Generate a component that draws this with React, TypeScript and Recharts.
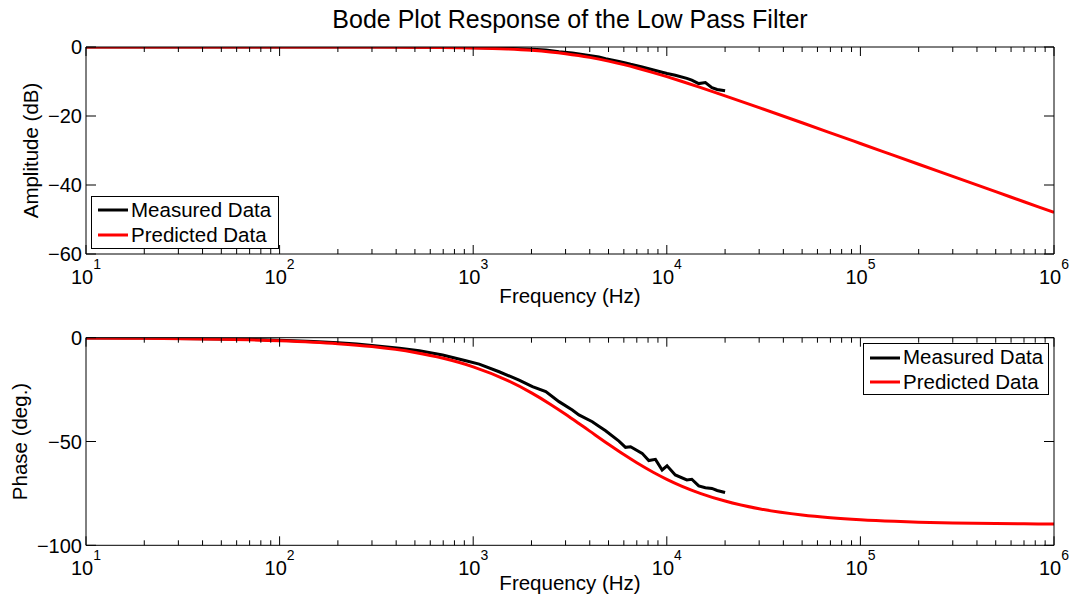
import React from 'react';
import { LineChart, Line, XAxis, YAxis, Legend } from 'recharts';

const FONT = '"Liberation Sans", Arial, Helvetica, sans-serif';

const chartTitle = 'Bode Plot Response of the Low Pass Filter';
const xLabel = 'Frequency (Hz)';
const ampLabel = 'Amplitude (dB)';
const phaseLabel = 'Phase (deg.)';
const seriesNames = ['Measured Data', 'Predicted Data'];
const seriesColors = ['#000000', '#ff0000'];

const xMajorTicks = [10, 100, 1000, 10000, 100000, 1000000];
const xMinorMultipliers = [2, 3, 4, 5, 6, 7, 8, 9];
const ampTicks = [-60, -40, -20, 0];
const phaseTicks = [-100, -50, 0];

const measuredFreq = [10, 15, 20, 30, 40, 50, 70, 100, 150, 200, 250, 300, 416, 527, 695, 916, 1074, 1361, 1726, 2023, 2371, 2775, 3250, 3516, 4123, 4457, 4830, 5660, 6120, 6500, 7460, 8070, 8740, 9460, 10030, 11060, 12690, 13460, 14620, 15820, 17100, 18200, 20000];
const measuredAmp = [0, 0, 0, 0, 0, 0, 0, 0, -0.01, -0.01, -0.01, -0.02, -0.03, -0.05, -0.08, -0.14, -0.19, -0.31, -0.49, -0.65, -0.87, -1.35, -1.7, -2.0, -2.6, -2.9, -3.4, -4.2, -4.6, -5.0, -5.8, -6.3, -6.8, -7.3, -7.7, -8.2, -9.1, -9.6, -10.6, -10.3, -11.8, -12.3, -12.7];
const measuredPhase = [-0.1, -0.2, -0.2, -0.4, -0.5, -0.6, -0.8, -1.2, -1.8, -2.4, -3.0, -3.7, -5.1, -6.3, -8.3, -11.1, -12.7, -16.4, -20.4, -23.6, -26.0, -30.8, -34.8, -37.2, -40.5, -42.6, -44.8, -49.8, -52.8, -52.5, -55.7, -59.2, -58.6, -63.7, -61.7, -66.1, -68.5, -68.2, -71.4, -72.3, -72.6, -73.6, -74.6];

const predictedFreq = [10, 20, 50, 100, 200, 300, 500, 700, 1000, 1500, 2000, 2500, 3000, 3500, 4000, 5000, 6000, 7000, 8500, 10000, 12000, 15000, 20000, 30000, 50000, 70000, 100000, 150000, 200000, 300000, 500000, 700000, 1000000];
const predictedAmp = [0, 0, 0, -0.003, -0.011, -0.024, -0.067, -0.131, -0.263, -0.571, -0.969, -1.432, -1.938, -2.469, -3.01, -4.087, -5.119, -6.088, -7.415, -8.603, -10.0, -11.779, -14.15, -17.578, -21.966, -24.875, -27.966, -31.484, -33.981, -37.502, -41.938, -44.861, -47.959];
const predictedPhase = [-0.14, -0.29, -0.72, -1.43, -2.86, -4.29, -7.13, -9.93, -14.04, -20.56, -26.57, -32.01, -36.87, -41.19, -45.0, -51.34, -56.31, -60.26, -64.8, -68.2, -71.57, -75.07, -78.69, -82.41, -85.43, -86.73, -87.71, -88.47, -88.85, -89.24, -89.54, -89.67, -89.77];

const xTicks: number[] = [];
xMajorTicks.forEach((m, i) => {
  xTicks.push(m);
  if (i < xMajorTicks.length - 1) xMinorMultipliers.forEach((k) => xTicks.push(m * k));
});

const toSeries = (fs: number[], vs: number[]) => fs.map((f, i) => ({ f, v: vs[i] }));
const measuredAmpData = toSeries(measuredFreq, measuredAmp);
const measuredPhaseData = toSeries(measuredFreq, measuredPhase);
const predictedAmpData = toSeries(predictedFreq, predictedAmp);
const predictedPhaseData = toSeries(predictedFreq, predictedPhase);

const isMajor = (v: number) => Math.abs(Math.log10(v) - Math.round(Math.log10(v))) < 1e-9;
const fmtNum = (v: number) => (v < 0 ? '\u2212' + Math.abs(v) : String(v));

const XTickBottom = (props: any) => {
  const { x, y, payload } = props;
  const v = payload.value;
  const major = isMajor(v);
  return (
    <g>
      <line x1={x} x2={x} y1={y} y2={y - (major ? 9 : 5)} stroke="#000" strokeWidth={1} />
      {major && (
        <text x={x} y={y + 29.5} textAnchor="middle" fontFamily={FONT} fontSize={20} fill="#000">
          10
          <tspan dy={-15} fontSize={14}>{Math.round(Math.log10(v))}</tspan>
        </text>
      )}
    </g>
  );
};

const XTickTop = (props: any) => {
  const { x, y, payload } = props;
  const major = isMajor(payload.value);
  return <line x1={x} x2={x} y1={y} y2={y + (major ? 9 : 5)} stroke="#000" strokeWidth={1} />;
};

const YTickLeft = (props: any) => {
  const { x, y, payload } = props;
  return (
    <g>
      <line x1={x} x2={x + 10} y1={y} y2={y} stroke="#000" strokeWidth={1} />
      <text x={x - 4} y={y} dy="0.36em" textAnchor="end" fontFamily={FONT} fontSize={20} fill="#000">
        {fmtNum(payload.value)}
      </text>
    </g>
  );
};

const YTickRight = (props: any) => {
  const { x, y } = props;
  return <line x1={x} x2={x - 10} y1={y} y2={y} stroke="#000" strokeWidth={1} />;
};

const LegendBox = () => (
  <div
    style={{
      border: '1.3px solid #000',
      background: '#fff',
      boxSizing: 'border-box',
      width: '100%',
      height: '100%',
      fontFamily: FONT,
      fontSize: 20.5,
      color: '#000',
      paddingTop: 1,
    }}
  >
    {seriesNames.map((n, i) => (
      <div key={n} style={{ display: 'flex', alignItems: 'center', height: 24.5, lineHeight: '24.5px', whiteSpace: 'nowrap' }}>
        <svg width={30} height={6} style={{ marginLeft: 5.5, marginRight: 3.5, display: 'block' }}>
          <line x1={0} x2={30} y1={3} y2={3} stroke={seriesColors[i]} strokeWidth={3} />
        </svg>
        <span>{n}</span>
      </div>
    ))}
  </div>
);

type PanelProps = {
  height: number;
  top: number;
  marginTop: number;
  xAxisHeight: number;
  xLabelOffset: number;
  domain: [number, number];
  yTicks: number[];
  measured: { f: number; v: number }[];
  predicted: { f: number; v: number }[];
  yLabel: string;
  yLabelX: number;
  title?: string;
  legendPos: { left: number; top: number; width: number; height: number };
};

const Panel = (p: PanelProps) => {
  const plotBottom = p.height - p.xAxisHeight;
  const plotCenterY = (p.marginTop + plotBottom) / 2;
  return (
    <div style={{ position: 'absolute', left: 0, top: p.top }}>
      <LineChart width={1070} height={p.height} margin={{ top: p.marginTop - 1, right: 15, bottom: 0, left: 0 }}>
        <XAxis
          dataKey="f"
          type="number"
          scale="log"
          domain={[10, 1000000]}
          ticks={xTicks}
          interval={0}
          allowDataOverflow
          height={p.xAxisHeight}
          tickSize={0}
          tickMargin={0}
          tickLine={false}
          axisLine={{ stroke: '#000', strokeWidth: 1 }}
          tick={<XTickBottom />}
          label={{
            content: () => (
              <text x={570} y={plotBottom + p.xLabelOffset} textAnchor="middle" fontFamily={FONT} fontSize={20.5} fill="#000">
                {xLabel}
              </text>
            ),
          }}
        />
        <XAxis
          xAxisId="top"
          orientation="top"
          dataKey="f"
          type="number"
          scale="log"
          domain={[10, 1000000]}
          ticks={xTicks}
          interval={0}
          allowDataOverflow
          height={1}
          tickSize={0}
          tickMargin={0}
          tickLine={false}
          axisLine={{ stroke: '#000', strokeWidth: 1 }}
          tick={<XTickTop />}
        />
        <YAxis
          type="number"
          domain={p.domain}
          ticks={p.yTicks}
          interval={0}
          allowDataOverflow
          width={86}
          tickSize={0}
          tickMargin={0}
          tickLine={false}
          axisLine={{ stroke: '#000', strokeWidth: 1 }}
          tick={<YTickLeft />}
          label={{
            content: () => (
              <g>
                <text
                  x={p.yLabelX}
                  y={plotCenterY}
                  transform={`rotate(-90, ${p.yLabelX}, ${plotCenterY})`}
                  textAnchor="middle"
                  fontFamily={FONT}
                  fontSize={20.5}
                  fill="#000"
                >
                  {p.yLabel}
                </text>
                {p.title && (
                  <text x={570} y={28} textAnchor="middle" fontFamily={FONT} fontSize={25} fill="#000">
                    {p.title}
                  </text>
                )}
              </g>
            ),
          }}
        />
        <YAxis
          yAxisId="right"
          orientation="right"
          type="number"
          domain={p.domain}
          ticks={p.yTicks}
          interval={0}
          allowDataOverflow
          width={1}
          tickSize={0}
          tickMargin={0}
          tickLine={false}
          axisLine={{ stroke: '#000', strokeWidth: 1 }}
          tick={<YTickRight />}
        />
        <Line
          data={p.predicted}
          dataKey="v"
          xAxisId="top"
          yAxisId="right"
          stroke="none"
          strokeWidth={0}
          legendType="none"
          dot={false}
          activeDot={false}
          isAnimationActive={false}
        />
        <Line
          data={p.measured}
          dataKey="v"
          name={seriesNames[0]}
          type="linear"
          stroke={seriesColors[0]}
          strokeWidth={3}
          dot={false}
          isAnimationActive={false}
        />
        <Line
          data={p.predicted}
          dataKey="v"
          name={seriesNames[1]}
          type="monotone"
          stroke={seriesColors[1]}
          strokeWidth={3}
          dot={false}
          isAnimationActive={false}
        />
        <Legend
          layout="horizontal"
          verticalAlign="middle"
          align="center"
          content={<LegendBox />}
          wrapperStyle={{ ...p.legendPos, position: 'absolute', margin: 0, padding: 0 }}
        />
      </LineChart>
    </div>
  );
};

export default function App() {
  return (
    <div style={{ position: 'absolute', left: 0, top: 0, width: 1070, height: 599, background: '#fff', overflow: 'hidden' }}>
      <Panel
        height={320}
        top={0}
        marginTop={47}
        xAxisHeight={66}
        xLabelOffset={49}
        domain={[-60, 0]}
        yTicks={ampTicks}
        measured={measuredAmpData}
        predicted={predictedAmpData}
        yLabel={ampLabel}
        yLabelX={38}
        title={chartTitle}
        legendPos={{ left: 91, top: 196, width: 188, height: 53 }}
      />
      <Panel
        height={299}
        top={300}
        marginTop={37.7}
        xAxisHeight={53.7}
        xLabelOffset={45}
        domain={[-100, 0]}
        yTicks={phaseTicks}
        measured={measuredPhaseData}
        predicted={predictedPhaseData}
        yLabel={phaseLabel}
        yLabelX={27}
        legendPos={{ left: 863, top: 43.3, width: 186, height: 52 }}
      />
    </div>
  );
}
